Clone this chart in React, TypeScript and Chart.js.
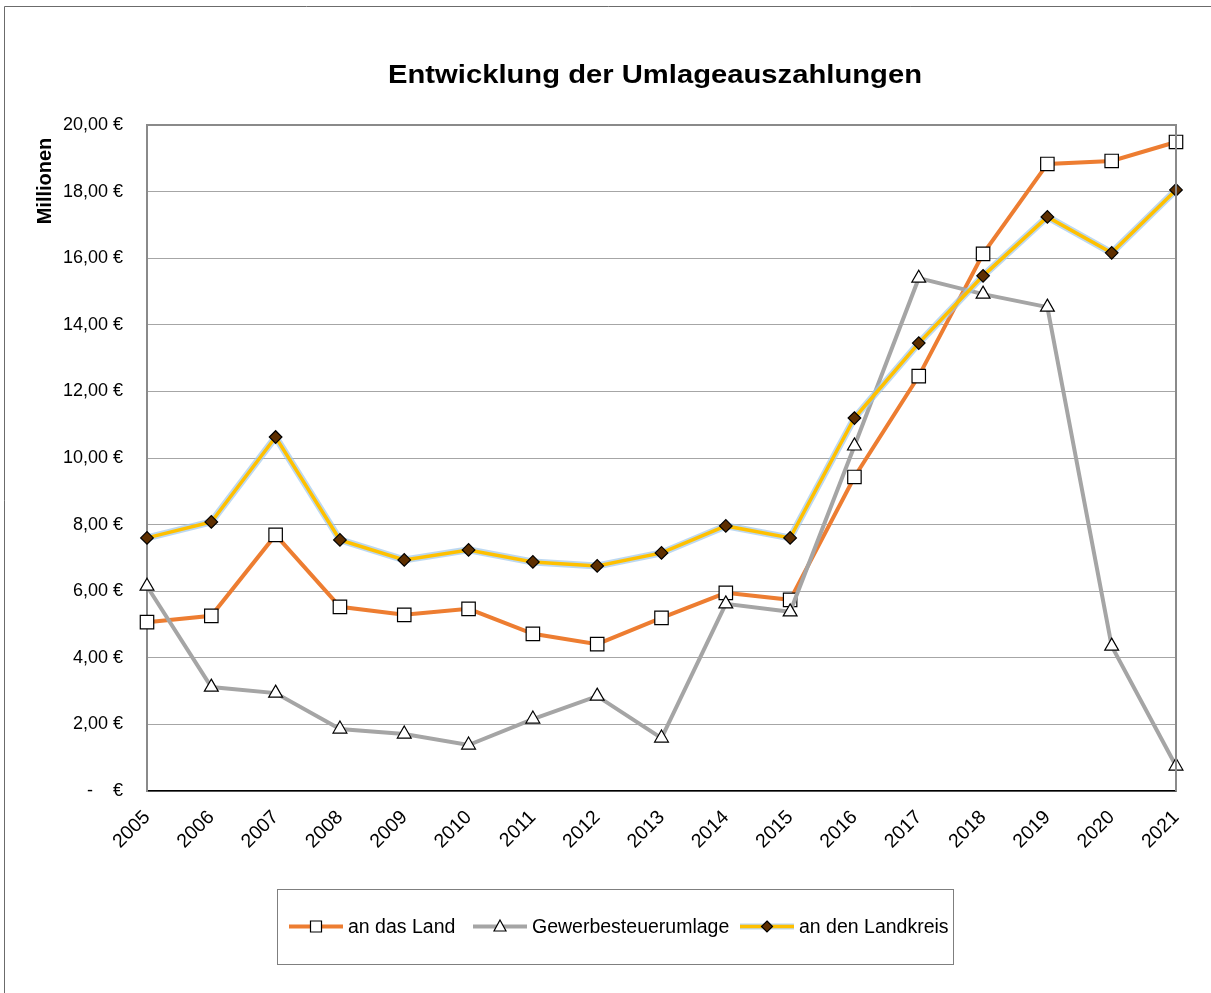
import React, { useEffect, useRef } from 'react';
import { Chart, registerables } from 'chart.js';

Chart.register(...registerables);

const years = ['2005', '2006', '2007', '2008', '2009', '2010', '2011', '2012', '2013', '2014', '2015', '2016', '2017', '2018', '2019', '2020', '2021'];
const anDasLand = [5.07, 5.26, 7.69, 5.53, 5.29, 5.47, 4.72, 4.41, 5.2, 5.95, 5.74, 9.43, 12.46, 16.13, 18.83, 18.92, 19.49];
const gewerbesteuerumlage = [6.15, 3.12, 2.94, 1.86, 1.71, 1.38, 2.16, 2.85, 1.59, 5.62, 5.38, 10.36, 15.4, 14.92, 14.53, 4.35, 0.75];
const anDenLandkreis = [7.6, 8.08, 10.63, 7.54, 6.94, 7.24, 6.88, 6.76, 7.15, 7.96, 7.6, 11.2, 13.45, 15.47, 17.24, 16.16, 18.05];
const seriesLabels = ['an das Land', 'Gewerbesteuerumlage', 'an den Landkreis'];
const chartTitle = 'Entwicklung der Umlageauszahlungen';
const yAxisTitle = 'Millionen';
const yMin = 0;
const yMax = 20;
const yStep = 2;

const FONT = '"Liberation Sans", Arial, Helvetica, sans-serif';
const ORANGE = '#ED7D31';
const GRAY = '#A5A5A5';
const YELLOW = '#FFC000';
const BROWN = '#5E2F00';
const HALO = 'rgba(160,200,235,0.7)';

function formatTick(v: number): string {
  if (v === 0) return '-    €';
  return v.toFixed(2).replace('.', ',') + ' €';
}

function drawMarker(ctx: CanvasRenderingContext2D, kind: string, x: number, y: number) {
  ctx.save();
  ctx.lineWidth = 1.2;
  ctx.strokeStyle = '#000';
  ctx.beginPath();
  if (kind === 'rect') {
    ctx.fillStyle = '#fff';
    ctx.rect(x - 5.5, y - 5.5, 11, 11);
  } else if (kind === 'triangle') {
    ctx.fillStyle = '#fff';
    ctx.moveTo(x, y - 6.5);
    ctx.lineTo(x + 6, y + 4.5);
    ctx.lineTo(x - 6, y + 4.5);
    ctx.closePath();
  } else {
    ctx.fillStyle = BROWN;
    ctx.moveTo(x, y - 5.5);
    ctx.lineTo(x + 5.5, y);
    ctx.lineTo(x, y + 5.5);
    ctx.lineTo(x - 5.5, y);
    ctx.closePath();
  }
  ctx.fill();
  ctx.stroke();
  ctx.restore();
}

const decorPlugin = {
  id: 'decor',
  beforeDraw(chart: any) {
    const ctx = chart.ctx as CanvasRenderingContext2D;
    ctx.save();
    ctx.fillStyle = '#fff';
    ctx.fillRect(0, 0, chart.width, chart.height);
    ctx.strokeStyle = '#6b6b6b';
    ctx.lineWidth = 1;
    ctx.beginPath();
    ctx.moveTo(4.5, chart.height + 5);
    ctx.lineTo(4.5, 6.5);
    ctx.lineTo(chart.width + 5, 6.5);
    ctx.stroke();
    ctx.restore();
  },
  afterDraw(chart: any) {
    const ctx = chart.ctx as CanvasRenderingContext2D;
    const a = chart.chartArea;
    ctx.save();
    // top and right plot border
    ctx.strokeStyle = '#8a8a8a';
    ctx.lineWidth = 2;
    ctx.beginPath();
    ctx.moveTo(a.left, a.top);
    ctx.lineTo(a.right, a.top);
    ctx.lineTo(a.right, a.bottom);
    ctx.stroke();

    // title (stretched horizontally to match the original's wide bold face)
    ctx.fillStyle = '#000';
    ctx.font = `bold 26px ${FONT}`;
    ctx.textAlign = 'center';
    ctx.textBaseline = 'alphabetic';
    const tw = ctx.measureText(chartTitle).width;
    const sx = 534 / tw;
    ctx.save();
    ctx.translate(655, 83);
    ctx.scale(sx, 1);
    ctx.fillText(chartTitle, 0, 0);
    ctx.restore();

    // y axis title
    ctx.save();
    ctx.translate(45, 181);
    ctx.rotate(-Math.PI / 2);
    ctx.textBaseline = 'middle';
    ctx.font = `bold 20px ${FONT}`;
    ctx.fillText(yAxisTitle, 0, 0);
    ctx.restore();

    // legend
    const bx = 277, by = 889, bw = 676, bh = 75;
    ctx.strokeStyle = '#7f7f7f';
    ctx.lineWidth = 1;
    ctx.strokeRect(bx + 0.5, by + 0.5, bw, bh);
    const cy = by + bh / 2;
    const lineStarts = [289, 473, 740];
    const colors = [ORANGE, GRAY, YELLOW];
    const markers = ['rect', 'triangle', 'rectRot'];
    ctx.font = `19.5px ${FONT}`;
    ctx.textAlign = 'left';
    ctx.textBaseline = 'middle';
    for (let i = 0; i < 3; i++) {
      const x0 = lineStarts[i];
      const len = 54;
      if (i === 2) {
        ctx.strokeStyle = HALO;
        ctx.lineWidth = 6;
        ctx.beginPath();
        ctx.moveTo(x0, cy);
        ctx.lineTo(x0 + len, cy);
        ctx.stroke();
      }
      ctx.strokeStyle = colors[i];
      ctx.lineWidth = i === 2 ? 3.5 : 4;
      ctx.beginPath();
      ctx.moveTo(x0, cy);
      ctx.lineTo(x0 + len, cy);
      ctx.stroke();
      drawMarker(ctx, markers[i], x0 + len / 2, cy);
      ctx.fillStyle = '#000';
      ctx.fillText(seriesLabels[i], x0 + len + 5, cy + 1);
    }
    ctx.restore();
  },
};

export default function App() {
  const ref = useRef<HTMLCanvasElement | null>(null);

  useEffect(() => {
    if (!ref.current) return;
    const chart = new Chart(ref.current, {
      type: 'line',
      data: {
        labels: years,
        datasets: [
          {
            label: seriesLabels[0],
            data: anDasLand,
            borderColor: ORANGE,
            borderWidth: 4,
            pointStyle: 'rect',
            pointRadius: 9.5,
            pointBackgroundColor: '#fff',
            pointBorderColor: '#000',
            pointBorderWidth: 1.2,
            tension: 0,
            clip: false,
            order: 3,
          },
          {
            label: seriesLabels[1],
            data: gewerbesteuerumlage,
            borderColor: GRAY,
            borderWidth: 4,
            pointStyle: 'triangle',
            pointRadius: 8,
            pointBackgroundColor: '#fff',
            pointBorderColor: '#000',
            pointBorderWidth: 1.2,
            tension: 0,
            clip: false,
            order: 2,
          },
          {
            label: 'halo',
            data: anDenLandkreis,
            borderColor: HALO,
            borderWidth: 7,
            pointRadius: 0,
            tension: 0,
            clip: false,
            order: 1.5,
          },
          {
            label: seriesLabels[2],
            data: anDenLandkreis,
            borderColor: YELLOW,
            borderWidth: 3.5,
            pointStyle: 'rectRot',
            pointRadius: 6.3,
            pointBackgroundColor: BROWN,
            pointBorderColor: '#000',
            pointBorderWidth: 1.2,
            tension: 0,
            clip: false,
            order: 1,
          },
        ],
      },
      options: {
        responsive: false,
        animation: false,
        devicePixelRatio: 1,
        layout: { padding: { left: 0, top: 125, right: 35, bottom: 0 } },
        plugins: {
          legend: { display: false },
          title: { display: false },
          tooltip: { enabled: false },
        },
        scales: {
          x: {
            type: 'category',
            offset: false,
            grid: { display: false, drawTicks: false },
            border: { display: true, color: '#000', width: 1.5 },
            ticks: {
              minRotation: 45,
              maxRotation: 45,
              autoSkip: false,
              padding: 15,
              color: '#000',
              font: { family: FONT, size: 19.5 },
            },
            afterFit: (scale: any) => {
              scale.height = 202;
            },
          },
          y: {
            min: yMin,
            max: yMax,
            grid: { color: '#A6A6A6', lineWidth: 1, drawTicks: false },
            border: { display: true, color: '#8a8a8a', width: 2 },
            ticks: {
              stepSize: yStep,
              padding: 24,
              color: '#000',
              font: { family: FONT, size: 18 },
              callback: (v: any) => formatTick(Number(v)),
            },
            afterFit: (scale: any) => {
              scale.width = 147;
            },
          },
        },
      },
      plugins: [decorPlugin],
    });
    return () => chart.destroy();
  }, []);

  return (
    <div style={{ position: 'absolute', left: 0, top: 0, width: 1211, height: 993, background: '#fff' }}>
      <canvas ref={ref} width={1211} height={993} style={{ width: 1211, height: 993, display: 'block' }} />
    </div>
  );
}
